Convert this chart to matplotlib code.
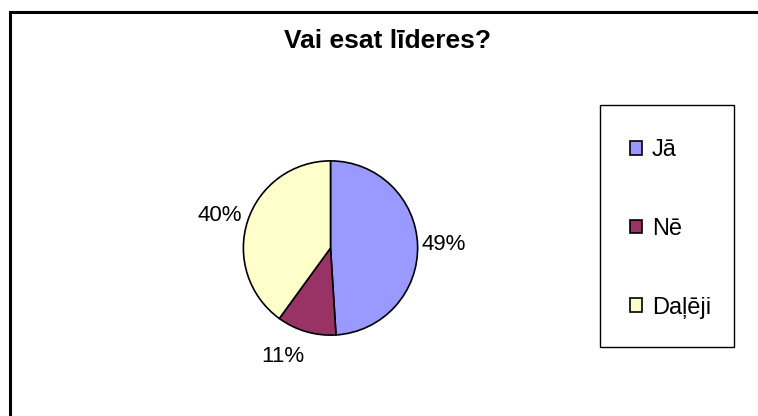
import matplotlib.pyplot as plt
from matplotlib.patches import Patch, Rectangle

plt.rcParams['font.family'] = ['Liberation Sans', 'DejaVu Sans']

# data
labels = ['Jā', 'Nē', 'Daļēji']
values = [49, 11, 40]
colors = ['#9999FF', '#993366', '#FFFFCC']
title = 'Vai esat līderes?'

W, H = 758, 416
fig = plt.figure(figsize=(W / 100, H / 100), dpi=100)

def px(x0, y0, x1, y1):
    # pixel box (from top-left) -> figure fraction rect
    return [x0 / W, 1 - y1 / H, (x1 - x0) / W, (y1 - y0) / H]

# outer chart frame (only left/top visible in the reference)
fig.patches.append(Rectangle((9.5 / W, -0.1), 1.2, 1 - 12.5 / H + 0.1,
                             transform=fig.transFigure, fill=False,
                             edgecolor='black', linewidth=2.2))

fig.text(388 / W, 1 - 41 / H, title, ha='center', va='center',
         fontsize=19, fontweight='bold')

ax = fig.add_axes(px(242, 160, 419, 336))
wedges, texts, autotexts = ax.pie(values, colors=colors, startangle=90, counterclock=False,
                                  autopct='%1.0f%%', pctdistance=1.3,
                                  wedgeprops=dict(edgecolor='black', linewidth=1.2),
                                  textprops=dict(fontsize=16))
ax.set_xlim(-1.01, 1.01)
ax.set_ylim(-1.01, 1.01)
ax.set_aspect('equal')
# small nudges so the labels sit like excel puts them
nudges = [(0.0, 0.0), (-0.19, 0.0), (-0.04, -0.03)]
for t, (dx, dy) in zip(autotexts, nudges):
    x, y = t.get_position()
    t.set_position((x + dx, y + dy))
    t.set_clip_on(False)

# legend box drawn by hand, entries from fig.legend
fig.patches.append(Rectangle((600 / W, 1 - 347 / H), 134 / W, 242 / H,
                             transform=fig.transFigure, fill=False,
                             edgecolor='black', linewidth=1.0))
handles = [Patch(facecolor=c, edgecolor='black', linewidth=1.2) for c in colors]
leg = fig.legend(handles, labels, loc='upper left', bbox_to_anchor=(596 / W, 1 - 105 / H),
                 frameon=False, fontsize=17,
                 handlelength=0.5, handleheight=0.5, handletextpad=0.42,
                 labelspacing=2.4, borderpad=1.45, borderaxespad=0)

fig.savefig('out.png', dpi=100)
